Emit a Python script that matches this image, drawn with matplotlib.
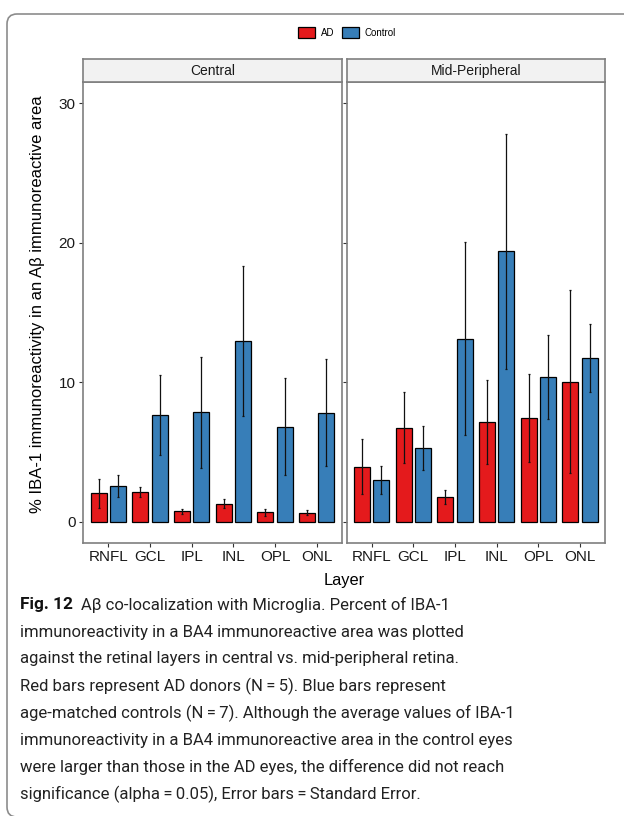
import numpy as np
import matplotlib
matplotlib.use("Agg")
import matplotlib.pyplot as plt
from matplotlib.patches import Patch, PathPatch
from matplotlib.path import Path

# -------- DATA --------
layers = ['RNFL', 'GCL', 'IPL', 'INL', 'OPL', 'ONL']
panels = ['Central', 'Mid-Peripheral']

central_ad = [2.04, 2.12, 0.74, 1.30, 0.69, 0.66]
central_ad_se = [1.02, 0.36, 0.20, 0.30, 0.26, 0.20]
central_ctrl = [2.55, 7.63, 7.86, 12.97, 6.82, 7.81]
central_ctrl_se = [0.77, 2.86, 3.98, 5.39, 3.46, 3.83]

mid_ad = [3.96, 6.74, 1.76, 7.15, 7.43, 10.03]
mid_ad_se = [2.00, 2.55, 0.50, 3.03, 3.17, 6.56]
mid_ctrl = [2.99, 5.26, 13.12, 19.40, 10.39, 11.77]
mid_ctrl_se = [1.02, 1.58, 6.93, 8.42, 3.03, 2.44]

groups = ['AD', 'Control']
colors = ['#E41A1C', '#377EB8']

caption_lines = [
    "immunoreactivity in a BA4 immunoreactive area was plotted",
    "against the retinal layers in central vs. mid-peripheral retina.",
    "Red bars represent AD donors (N\u2009=\u20095). Blue bars represent",
    "age-matched controls (N\u2009=\u20097). Although the average values of IBA-1",
    "immunoreactivity in a BA4 immunoreactive area in the control eyes",
    "were larger than those in the AD eyes, the difference did not reach",
    "significance (alpha\u2009=\u20090.05), Error bars\u2009=\u2009Standard Error.",
]

# -------- FIGURE --------
W, H = 624, 816
fig = plt.figure(figsize=(W / 100, H / 100), dpi=100)
plt.rcParams['font.family'] = ['Liberation Sans', 'DejaVu Sans']


def px(x0, y0, x1, y1):
    # pixel box (top-left origin) -> figure fraction rect
    return [x0 / W, 1 - y1 / H, (x1 - x0) / W, (y1 - y0) / H]


border = '#7F7F7F'
panel_boxes = [(83.3, 82.3, 341.7, 542.7), (346.7, 82.3, 605.0, 542.7)]
data = [
    (central_ad, central_ad_se, central_ctrl, central_ctrl_se),
    (mid_ad, mid_ad_se, mid_ctrl, mid_ctrl_se),
]

x = np.arange(1, len(layers) + 1)
off = 0.232
bw = 0.385

for i, (name, box, vals) in enumerate(zip(panels, panel_boxes, data)):
    ax = fig.add_axes(px(*box))
    ad, ad_se, ct, ct_se = vals
    for pos, v, se, c in [(x - off, ad, ad_se, colors[0]), (x + off, ct, ct_se, colors[1])]:
        ax.bar(pos, v, width=bw, color=c, edgecolor='black', linewidth=0.9, zorder=2)
        ax.errorbar(pos, v, yerr=se, fmt='none', ecolor='#111111', elinewidth=0.9,
                    capsize=0.8, capthick=0.9, zorder=3)
    ax.set_xlim(0.4, 6.6)
    ax.set_ylim(-1.5, 31.5)
    ax.set_xticks(x)
    ax.set_xticklabels(layers)
    ax.set_yticks([0, 10, 20, 30])
    ax.tick_params(axis='both', labelsize=11, colors='#333333', labelcolor='#1a1a1a',
                   length=3, width=0.8, pad=2.5)
    if i > 0:
        ax.tick_params(axis='y', labelleft=False)
    for s in ax.spines.values():
        s.set_color(border)
        s.set_linewidth(1.2)

    # facet strip
    sx0, _, sx1, _ = box
    sax = fig.add_axes(px(sx0, 59.3, sx1, 82.3))
    sax.set_facecolor('#F2F2F2')
    sax.set_xticks([])
    sax.set_yticks([])
    for s in sax.spines.values():
        s.set_color(border)
        s.set_linewidth(1.2)
    sax.text(0.5, 0.5, name, ha='center', va='center', fontsize=10,
             color='#1a1a1a', transform=sax.transAxes)

# axis titles
fig.text(344 / W, 1 - 580 / H, 'Layer', ha='center', va='center', fontsize=11.8)
fig.text(38 / W, 1 - 304 / H,
         '% IBA-1 immunoreactivity in an A\u03b2 immunoreactive area',
         ha='center', va='center', rotation=90, fontsize=12)

# legend
handles = [Patch(facecolor=c, edgecolor='black', linewidth=0.9, label=g)
           for g, c in zip(groups, colors)]
fig.legend(handles=handles, loc='center', bbox_to_anchor=(347 / W, 1 - 32.5 / H),
           ncol=2, frameon=False, fontsize=7, handlelength=1.75, handleheight=1.45,
           handletextpad=0.6, columnspacing=0.7)

# caption
cap_font = ['Roboto', 'DejaVu Sans']
cap_size = 12.0
y0 = 605
dy = 27.0
t = fig.text(20 / W, 1 - y0 / H, 'Fig. 12', ha='left', va='center', fontsize=cap_size + 0.4,
             fontweight='bold', family=cap_font, color='#111111')
fig.canvas.draw()
bb = t.get_window_extent()
fig.text((bb.x1 + 8) / W, 1 - y0 / H, 'A\u03b2 co-localization with Microglia. Percent of IBA-1',
         ha='left', va='center', fontsize=cap_size, family=cap_font, color='#222222')
for k, line in enumerate(caption_lines):
    fig.text(20 / W, 1 - (y0 + dy * (k + 1)) / H, line, ha='left', va='center',
             fontsize=cap_size, family=cap_font, color='#222222')

# frame: left side with rounded corners, top and bottom running off the right edge
fx, ftop, fbot, r = 7, 14, 817, 10
verts = [(W + 20, ftop), (fx + r, ftop), (fx, ftop), (fx, ftop + r),
         (fx, fbot - r), (fx, fbot), (fx + r, fbot), (W + 20, fbot)]
codes = [Path.MOVETO, Path.LINETO, Path.CURVE3, Path.CURVE3,
         Path.LINETO, Path.CURVE3, Path.CURVE3, Path.LINETO]
verts = [(vx / W, 1 - vy / H) for vx, vy in verts]
fig.patches.append(PathPatch(Path(verts, codes), transform=fig.transFigure, facecolor='none',
                             edgecolor='#8c8c8c', linewidth=1.2, clip_on=False))

fig.savefig('out.png', dpi=100)
